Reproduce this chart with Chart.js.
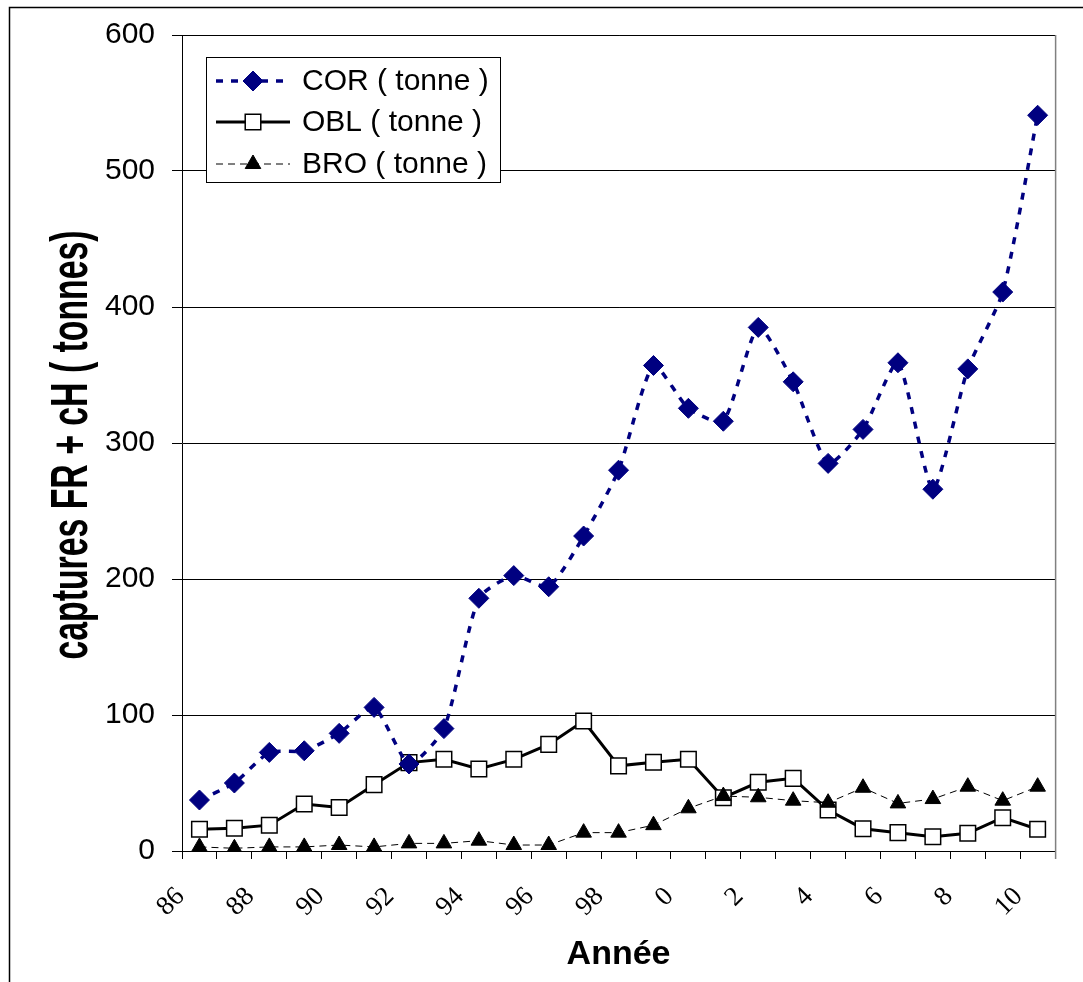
<!DOCTYPE html>
<html>
<head>
<meta charset="utf-8">
<title>Captures FR + cH</title>
<script src="https://cdn.jsdelivr.net/npm/chart.js@4.4.0/dist/chart.umd.min.js"></script>
<style>
  html, body { margin: 0; padding: 0; background: #fff; }
  #chart { display: block; }
</style>
</head>
<body>
<canvas id="chart" width="1083" height="982"></canvas>
<script>
// Years 1986-2010, labelled as two-digit years
const years = ['86', '87', '88', '89', '90', '91', '92', '93', '94', '95', '96', '97', '98', '99',
    '0', '1', '2', '3', '4', '5', '6', '7', '8', '9', '10'];

// Catches in tonnes
const corTonnes = [37.5, 50, 72.5, 73.7, 86.5, 105.6, 64, 90, 185.8, 202.5, 194.3, 231.6, 280, 357,
    325.5, 316, 385, 345, 285, 310, 359, 266, 354.5, 411, 541];
const oblTonnes = [16, 16.7, 19, 34.6, 32, 48.8, 65, 67.4, 60.3, 67.4, 78.4, 95.6, 62.6, 65.2,
    67.4, 39.2, 50.5, 53.4, 30.1, 16.4, 13.5, 10.5, 13, 24.5, 16];
const broTonnes = [3, 2, 3, 3, 4.4, 3, 5.6, 5.6, 7.6, 4.4, 4.4, 13.5, 13.5, 19,
    31.4, 40.4, 39.5, 37, 35.5, 46.5, 35, 38.2, 47.3, 37, 47.3];

const yTicks = [0, 100, 200, 300, 400, 500, 600];

const NAVY = '#000080';

// draws a marker shape at (x, y), used by the legend box
function drawMarker(ctx, ds, x, y) {
    const r = ds.pointRadius;
    ctx.save();
    ctx.fillStyle = ds.pointBackgroundColor;
    ctx.strokeStyle = ds.pointBorderColor;
    ctx.lineWidth = ds.pointBorderWidth;
    ctx.setLineDash([]);
    ctx.beginPath();
    if (ds.pointStyle === 'rectRot') {
        ctx.moveTo(x, y - r); ctx.lineTo(x + r, y); ctx.lineTo(x, y + r); ctx.lineTo(x - r, y);
    } else if (ds.pointStyle === 'rect') {
        const s = r * Math.SQRT1_2;
        ctx.rect(x - s, y - s, 2 * s, 2 * s);
    } else {
        ctx.moveTo(x, y - r);
        ctx.lineTo(x + r * 0.866, y + r / 2);
        ctx.lineTo(x - r * 0.866, y + r / 2);
    }
    ctx.closePath();
    ctx.fill();
    ctx.stroke();
    ctx.restore();
}

const decorations = {
    id: 'decorations',
    afterDraw(chart) {
        const { ctx, chartArea: a } = chart;
        ctx.save();

        // outer frame (left and top edges)
        ctx.strokeStyle = '#000';
        ctx.lineWidth = 1.5;
        ctx.beginPath();
        ctx.moveTo(9.5, 982);
        ctx.lineTo(9.5, 7.5);
        ctx.lineTo(1083, 7.5);
        ctx.stroke();

        // right edge of the plot area
        ctx.strokeStyle = '#808080';
        ctx.lineWidth = 1.5;
        ctx.beginPath();
        ctx.moveTo(a.right + 0.5, a.top);
        ctx.lineTo(a.right + 0.5, a.bottom + 8);
        ctx.stroke();

        // y axis title, condensed bold
        ctx.save();
        ctx.translate(87, (a.top + a.bottom) / 2 + 2);
        ctx.rotate(-Math.PI / 2);
        ctx.scale(0.65, 1);
        ctx.font = 'bold 52px "Liberation Sans", Arial, sans-serif';
        ctx.fillStyle = '#000';
        ctx.textAlign = 'center';
        ctx.textBaseline = 'alphabetic';
        ctx.fillText('captures FR + cH ( tonnes)', 0, 0);
        ctx.restore();

        // legend box inside the plot
        const box = { x: 206.5, y: 57.5, w: 294, h: 125 };
        ctx.fillStyle = '#fff';
        ctx.fillRect(box.x, box.y, box.w, box.h);
        ctx.strokeStyle = '#000';
        ctx.lineWidth = 1;
        ctx.strokeRect(box.x, box.y, box.w, box.h);

        const rows = [81, 122, 164];
        chart.data.datasets.forEach((ds, i) => {
            const y = rows[i];
            ctx.save();
            ctx.strokeStyle = ds.borderColor;
            ctx.lineWidth = ds.borderWidth;
            ctx.setLineDash(ds.borderDash || []);
            ctx.beginPath();
            ctx.moveTo(216, y);
            ctx.lineTo(290, y);
            ctx.stroke();
            ctx.restore();
            drawMarker(ctx, ds, 253, y);
            ctx.fillStyle = '#000';
            ctx.font = '30px "Liberation Sans", Arial, sans-serif';
            ctx.textAlign = 'left';
            ctx.textBaseline = 'middle';
            ctx.fillText(ds.label, 302, y + 1);
        });

        ctx.restore();
    }
};

const ctx = document.getElementById('chart').getContext('2d');

new Chart(ctx, {
    type: 'line',
    data: {
        labels: years,
        datasets: [
            {
                label: 'COR ( tonne )',
                data: corTonnes,
                borderColor: NAVY,
                borderWidth: 3.5,
                borderDash: [7, 8],
                tension: 0.2,
                pointStyle: 'rectRot',
                pointRadius: 10,
                pointBackgroundColor: NAVY,
                pointBorderColor: NAVY,
                pointBorderWidth: 1,
                order: 0
            },
            {
                label: 'OBL ( tonne )',
                data: oblTonnes,
                borderColor: '#000',
                borderWidth: 3,
                tension: 0,
                pointStyle: 'rect',
                pointRadius: 11,
                pointBackgroundColor: '#fff',
                pointBorderColor: '#000',
                pointBorderWidth: 1.5,
                order: 2
            },
            {
                label: 'BRO ( tonne )',
                data: broTonnes,
                borderColor: '#000',
                borderWidth: 1,
                borderDash: [7, 5],
                tension: 0,
                pointStyle: 'triangle',
                pointRadius: 9,
                pointBackgroundColor: '#000',
                pointBorderColor: '#000',
                pointBorderWidth: 1,
                order: 1
            }
        ]
    },
    options: {
        responsive: false,
        animation: false,
        layout: {
            padding: { left: 0, top: 35, right: 22, bottom: 0 }
        },
        plugins: {
            legend: { display: false },
            tooltip: { enabled: false }
        },
        scales: {
            x: {
                offset: true,
                afterFit: (scale) => { scale.height = 131; },
                grid: {
                    offset: true,
                    drawOnChartArea: false,
                    drawTicks: true,
                    tickLength: 8,
                    color: '#000',
                    lineWidth: 1
                },
                border: { color: '#000', width: 1 },
                ticks: {
                    autoSkip: false,
                    maxRotation: 45,
                    minRotation: 45,
                    padding: 22,
                    labelOffset: -19,
                    color: '#000',
                    font: { family: '"Liberation Serif", "Times New Roman", serif', size: 27 },
                    callback: function (value, index) {
                        return index % 2 === 0 ? this.getLabelForValue(value) : '';
                    }
                },
                title: {
                    display: true,
                    text: 'Année',
                    color: '#000',
                    font: { family: '"Liberation Sans", Arial, sans-serif', size: 34, weight: 'bold' },
                    padding: { top: 0, bottom: 7 }
                }
            },
            y: {
                min: 0,
                max: 600,
                afterFit: (scale) => { scale.width = 182; },
                afterBuildTicks: (scale) => { scale.ticks = yTicks.map(v => ({ value: v })); },
                grid: {
                    color: '#000',
                    lineWidth: 1,
                    drawTicks: true,
                    tickLength: 10
                },
                border: { color: '#000', width: 1 },
                ticks: {
                    padding: 17,
                    color: '#000',
                    font: { family: '"Liberation Sans", Arial, sans-serif', size: 30 }
                }
            }
        }
    },
    plugins: [decorations]
});
</script>
</body>
</html>
